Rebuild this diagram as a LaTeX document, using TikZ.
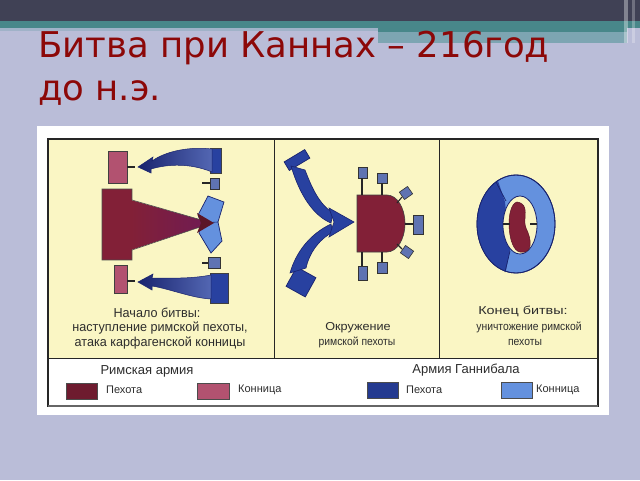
\documentclass[tikz,border=0pt]{standalone}
\usepackage{fontspec}
\setmainfont{Liberation Sans}
\newfontfamily\titlefont{DejaVu Sans}
\newfontfamily\capfontA[FakeStretch=0.97]{Liberation Sans}
\newfontfamily\capfontB[FakeStretch=0.9]{Liberation Sans}
\newfontfamily\capfontC[FakeStretch=1.25]{Liberation Sans}
\newfontfamily\capfontE[FakeStretch=1.1]{Liberation Sans}
\newfontfamily\capfontD{Liberation Sans}
\definecolor{bgcol}{RGB}{186,189,216}
\definecolor{darkbar}{RGB}{64,65,85}
\definecolor{tealA}{RGB}{72,135,138}
\definecolor{tealB}{RGB}{125,165,178}
\definecolor{stripcol}{RGB}{160,178,200}
\definecolor{titlered}{RGB}{140,8,8}
\definecolor{panelcol}{RGB}{250,246,196}
\definecolor{captxt}{RGB}{45,45,45}
\definecolor{rinf}{RGB}{130,32,55}
\definecolor{rcav}{RGB}{178,82,112}
\definecolor{hinf}{RGB}{40,65,160}
\definecolor{hinfdark}{RGB}{25,35,110}
\definecolor{hcav}{RGB}{100,145,222}
\definecolor{sqcol}{RGB}{95,115,178}
\tikzset{
  titletext/.style={font=\titlefont\fontsize{35.5}{35.5}\selectfont, text=titlered, inner sep=0pt, anchor=base west},
  capA/.style={font=\capfontA\fontsize{13}{13}\selectfont, text=captxt, inner sep=0pt},
  capB/.style={font=\capfontB\fontsize{11.5}{11.5}\selectfont, text=captxt, inner sep=0pt},
  capC/.style={font=\capfontC\fontsize{11.5}{11.5}\selectfont, text=captxt, inner sep=0pt},
  capE/.style={font=\capfontE\fontsize{11.5}{11.5}\selectfont, text=captxt, inner sep=0pt},
  legh/.style={font=\capfontD\fontsize{13}{13}\selectfont, text=captxt, inner sep=0pt},
  legi/.style={font=\capfontD\fontsize{11}{11}\selectfont, text=captxt, inner sep=0pt, anchor=west},
  outl/.style={draw=black!75, line width=0.6pt},
  tickline/.style={draw=black!85, line width=1.1pt},
  smallsq/.style={fill=sqcol, draw=black!80, line width=0.6pt},
  swatch/.style={draw=black!70, line width=0.8pt},
}
\begin{document}
\begin{tikzpicture}[x=1pt,y=-1pt]
\useasboundingbox (0,0) rectangle (640,480);
% slide background
\fill[bgcol] (0,0) rectangle (640,480);
\fill[darkbar] (0,0) rectangle (640,21);
\fill[tealA] (0,21) rectangle (640,28);
\fill[stripcol] (0,28) rectangle (378,31);
\fill[tealA] (378,28) rectangle (627,32);
\fill[tealB] (378,32) rectangle (627,43);
\fill[white,opacity=0.35] (624,0) rectangle (628,43);
\fill[white,opacity=0.25] (632,0) rectangle (635,43);
% title
\node[titletext] (t1) at (38,57) {Битва при Каннах – 216год};
\node[titletext] (t2) at (38,100) {до н.э.};
% picture frame
\fill[white] (37,126) rectangle (609,415);
\fill[panelcol] (48,139) rectangle (598,358);
\draw[line width=1.2pt, black!85] (48,139) rectangle (598,406);
\draw[line width=2pt, black!60] (48,406) -- (598,406);
\draw[line width=1pt, black!85] (48,358) -- (598,358);
\draw[line width=1pt, black!85] (274,139) -- (274,358);
\draw[line width=1pt, black!85] (439,139) -- (439,358);

% ---------- panel 1 ----------
% Roman cavalry
\filldraw[fill=rcav, outl] (108,151) rectangle (127,183);
\draw[tickline] (127,167) -- (135,167);
\filldraw[fill=rcav, outl] (114,265) rectangle (127,293);
\draw[tickline] (127,281) -- (135,281);
% Hannibal small squares
\filldraw[smallsq] (210,178) rectangle (219,189);
\draw[tickline] (202,183) -- (210,183);
\filldraw[smallsq] (208,257) rectangle (220,268);
\draw[tickline] (202,263) -- (208,263);
% light blue crescent
\filldraw[fill=hcav, draw=hinfdark, line width=0.7pt]
  (208,196) -- (224,202) -- (218,222) -- (222,241) -- (211,253) -- (199,233) -- (201,223) -- (198,215) -- cycle;
\draw[hinfdark, line width=0.6pt] (201,223) -- (218,222);
% Roman infantry wedge
\fill[rinf] (102,189) rectangle (132,260);
\shade[left color=rinf, right color=rinf!85!blue] (131,200) -- (212,223) -- (131,250) -- cycle;
\draw[black!70, line width=0.6pt] (102,189) -- (132,189) -- (132,200) -- (212,223) -- (132,250) -- (132,260) -- (102,260) -- cycle;
\fill[rinf!70!black] (197,213) -- (214,223) -- (197,233) -- (201,223) -- cycle;
% Hannibal cavalry blocks and curved arrows
\filldraw[fill=hinf, outl] (210,148) rectangle (221,173);
\shade[left color=hinfdark, right color=hinf!80!white, draw=hinfdark, line width=0.5pt]
  (212,149) .. controls (185,146) and (163,153) .. (152,161) -- (153,157) -- (138,167) -- (151,173) -- (151,169)
  .. controls (168,164) and (190,163) .. (212,172) -- cycle;
\filldraw[fill=hinf, outl] (210,273) rectangle (228,303);
\shade[left color=hinfdark, right color=hinf!80!white, draw=hinfdark, line width=0.5pt]
  (211,275) .. controls (190,279) and (170,278) .. (152,278) -- (153,274) -- (138,282) -- (152,290) -- (152,286)
  .. controls (170,289) and (192,298) .. (211,299) -- cycle;
% captions
\node[capA] (c1a) at (157,313) {Начало битвы:};
\node[capA] (c1b) at (160,328) {наступление римской пехоты,};
\node[capA] (c1c) at (160,343) {атака карфагенской конницы};

% ---------- panel 2 ----------
% Roman infantry D shape
\filldraw[fill=rinf, outl] (357,195) -- (387,195) arc[start angle=-90, end angle=90, x radius=18, y radius=28.5] -- (357,252) -- cycle;
% surrounding small squares with ticks
\filldraw[smallsq] (358,167) rectangle (367,178);
\draw[tickline] (362,178) -- (362,195);
\filldraw[smallsq] (377,173) rectangle (387,183);
\draw[tickline] (382,183) -- (382,195);
\filldraw[smallsq, rotate around={35:(406,193)}] (401,188.5) rectangle (411,197.5);
\draw[tickline] (397,203) -- (402,197);
\filldraw[smallsq] (413,215) rectangle (423,234);
\draw[tickline] (405,224) -- (413,224);
\filldraw[smallsq, rotate around={-35:(407,252)}] (402,247.5) rectangle (412,256.5);
\draw[tickline] (397,244) -- (402,249);
\filldraw[smallsq] (358,266) rectangle (367,280);
\draw[tickline] (362,252) -- (362,266);
\filldraw[smallsq] (377,262) rectangle (387,273);
\draw[tickline] (382,252) -- (382,262);
% Hannibal cavalry arrows
\filldraw[fill=hinf, draw=hinfdark, line width=0.7pt, rotate around={31:(297,160)}] (285,155) rectangle (309,165);
\filldraw[fill=hinf, draw=hinfdark, line width=0.7pt, rotate around={-29:(301,282)}] (290,271) rectangle (312,293);
\filldraw[fill=hinf, draw=hinfdark, line width=0.6pt]
  (291,166) -- (305,170) .. controls (312,188) and (319,204) .. (333,213)
  -- (331,223) .. controls (314,216) and (300,196) .. (291,166) -- cycle;
\filldraw[fill=hinf, draw=hinfdark, line width=0.6pt]
  (290,273) .. controls (296,252) and (310,234) .. (331,224)
  -- (333,232) .. controls (318,240) and (309,254) .. (306,268) -- cycle;
\filldraw[fill=hinf, draw=hinfdark, line width=0.6pt] (329,208) -- (354,222) -- (329,237) -- (334,222) -- cycle;
% captions
\node[capE] (c2a) at (358,328) {Окружение};
\node[capB] (c2b) at (357,342) {римской пехоты};

% ---------- panel 3 ----------
\filldraw[fill=hcav, draw=hinfdark, line width=0.8pt] (516,224) ellipse[x radius=39, y radius=49];
\begin{scope}
  \clip (516,224) ellipse[x radius=39, y radius=49];
  \fill[hinf] (497,178) -- (505,202) -- (510,250) -- (505,275) -- (470,280) -- (470,170) -- cycle;
\end{scope}
\draw[hinfdark, line width=0.8pt] (516,224) ellipse[x radius=39, y radius=49];
\draw[hinfdark, line width=0.7pt] (496,182) -- (506,201);
\draw[hinfdark, line width=0.7pt] (505,272) -- (510,251);
\filldraw[fill=panelcol, draw=hinfdark, line width=0.8pt] (520,225) ellipse[x radius=17, y radius=29];
% Roman remnant (bean)
\filldraw[fill=rinf, draw=rinf!70!black, line width=0.5pt]
  (517,202) .. controls (505,205) and (507,250) .. (520,252)
  .. controls (533,254) and (532,240) .. (526,228)
  .. controls (522,220) and (531,204) .. (517,202) -- cycle;
\draw[tickline] (503,224) -- (510,224);
\draw[tickline] (530,224) -- (537,224);
% captions
\node[capC] (c3a) at (523,311) {Конец битвы:};
\node[capB] (c3b) at (529,327) {уничтожение римской};
\node[capB] (c3c) at (525,342) {пехоты};

% ---------- legend ----------
\node[legh] (l1) at (147,371) {Римская армия};
\node[legh] (l2) at (466,370) {Армия Ганнибала};
\filldraw[fill=rinf!85!black, swatch] (66,383) rectangle (97,399);
\node[legi] (l1a) at (106,390) {Пехота};
\filldraw[fill=rcav, swatch] (197,383) rectangle (229,399);
\node[legi] (l1b) at (238,390) {Конница};
\filldraw[fill=hinf!90!black, swatch] (367,382) rectangle (398,398);
\node[legi] (l2a) at (406,390) {Пехота};
\filldraw[fill=hcav, swatch] (501,382) rectangle (532,398);
\node[legi] (l2b) at (536,390) {Конница};
\end{tikzpicture}
\end{document}
